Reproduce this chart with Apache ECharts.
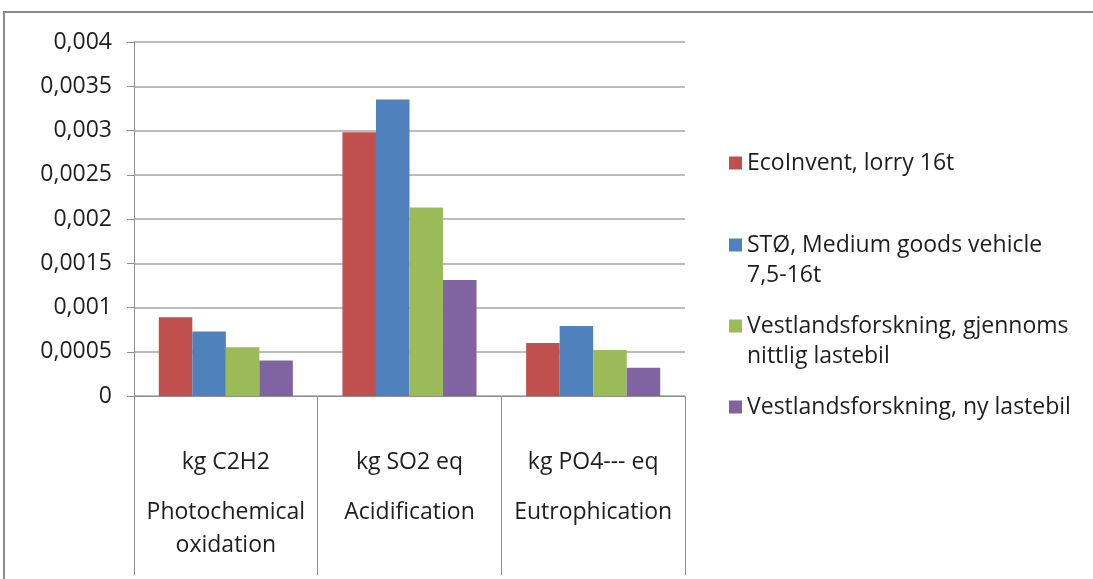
<!DOCTYPE html>
<html>
<head>
<meta charset="utf-8">
<script src="https://cdn.jsdelivr.net/npm/echarts@6/dist/echarts.min.js"></script>
<style>
  html, body { margin: 0; padding: 0; background: #ffffff; }
  #chart { width: 1093px; height: 579px; }
</style>
</head>
<body>
<div id="chart"></div>
<script>
// Impact categories (unit line + category name)
const unitLabels = ['kg C2H2', 'kg SO2 eq', 'kg PO4--- eq'];
const categoryLabels = [['Photochemical', 'oxidation'], ['Acidification'], ['Eutrophication']];

// Series names (legend text with its own line breaks)
const seriesNames = [
  'EcoInvent, lorry 16t',
  'STØ, Medium goods vehicle 7,5-16t',
  'Vestlandsforskning, gjennomsnittlig lastebil',
  'Vestlandsforskning, ny lastebil'
];
const legendTexts = [
  'EcoInvent, lorry 16t',
  'STØ, Medium goods vehicle\n7,5-16t',
  'Vestlandsforskning, gjennoms\nnittlig lastebil',
  'Vestlandsforskning, ny lastebil'
];

// Values per series, one per impact category
const ecoInvent = [0.00089, 0.00298, 0.00060];
const stoMedium = [0.00073, 0.00335, 0.00079];
const vfAverage = [0.00055, 0.00213, 0.00052];
const vfNew = [0.00040, 0.00131, 0.00032];

// Y axis tick labels (decimal comma)
const yTickLabels = ['0', '0,0005', '0,001', '0,0015', '0,002', '0,0025', '0,003', '0,0035', '0,004'];

const colors = ['#C0504D', '#4F81BD', '#9BBB59', '#8064A2'];
const seriesData = [ecoInvent, stoMedium, vfAverage, vfNew];
const FONT = 'Open Sans';
const FONT_SIZE = 23;
const TEXT_COLOR = '#1e1e1e';

const chart = echarts.init(document.getElementById('chart'));

// one legend block per series so each can sit at its own height;
// wrapped entries get a leading blank line so the swatch lines up with the first line
const legendTops = [148, 200, 281, 392];
const legends = seriesNames.map((name, i) => {
  const multi = legendTexts[i].indexOf('\n') >= 0;
  return {
    data: [name],
    left: 729,
    top: legendTops[i],
    padding: 0,
    icon: 'rect',
    itemWidth: 13,
    itemHeight: 13,
    selectedMode: false,
    formatter: () => (multi ? ' \n' : '') + legendTexts[i],
    textStyle: {
      fontFamily: FONT,
      fontSize: FONT_SIZE,
      color: TEXT_COLOR,
      lineHeight: 30
    }
  };
});

chart.setOption({
  animation: false,
  backgroundColor: '#ffffff',
  color: colors,
  grid: { left: 134, top: 42, right: 408, bottom: 183, containLabel: false },
  legend: legends,
  xAxis: {
    type: 'category',
    data: unitLabels,
    axisLine: { show: true, lineStyle: { color: '#8e8e8e', width: 1 } },
    axisTick: { show: true, length: 179, alignWithLabel: false, lineStyle: { color: '#8e8e8e', width: 1 } },
    axisLabel: {
      margin: 32,
      interval: 0,
      formatter: (v, i) => '{u|' + v + '}\n' + categoryLabels[i].map(s => '{c|' + s + '}').join('\n'),
      rich: {
        u: { fontFamily: FONT, fontSize: FONT_SIZE, color: TEXT_COLOR, lineHeight: 68 },
        c: { fontFamily: FONT, fontSize: FONT_SIZE, color: TEXT_COLOR, lineHeight: 33 }
      }
    }
  },
  yAxis: {
    type: 'value',
    min: 0,
    max: 0.004,
    interval: 0.0005,
    axisLine: { show: true, lineStyle: { color: '#8e8e8e', width: 1 } },
    axisTick: { show: true, inside: false, length: 7, lineStyle: { color: '#8e8e8e' } },
    splitLine: { show: true, lineStyle: { color: '#a6a6a6', width: 1.5 } },
    axisLabel: {
      margin: 22,
      fontFamily: FONT,
      fontSize: FONT_SIZE,
      color: TEXT_COLOR,
      formatter: (v, i) => yTickLabels[i]
    }
  },
  series: seriesNames.map((name, i) => ({
    name: name,
    type: 'bar',
    data: seriesData[i],
    barGap: '0%',
    barCategoryGap: '27%',
    itemStyle: { color: colors[i] }
  })),
  graphic: [{
    type: 'rect',
    shape: { x: 4, y: 12, width: 1200, height: 700 },
    style: { fill: 'none', stroke: '#8a8a8a', lineWidth: 2 },
    silent: true
  }]
});
</script>
</body>
</html>
